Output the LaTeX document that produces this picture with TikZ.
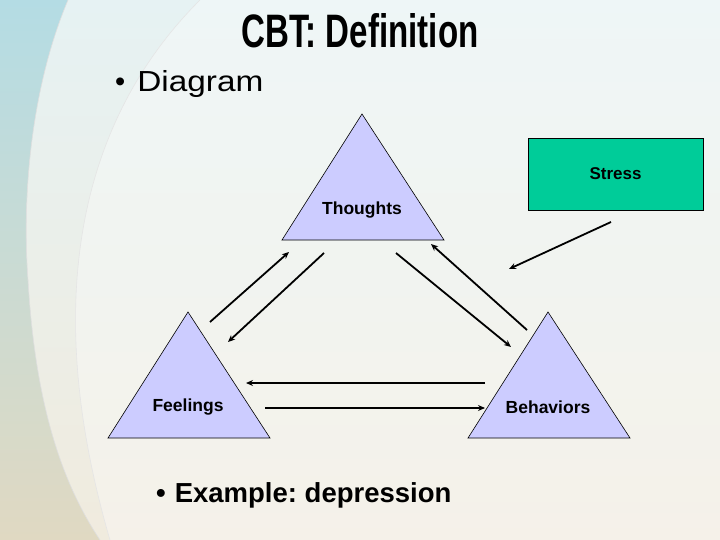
\documentclass[tikz,border=0pt]{standalone}
\usepackage{fontspec}
\setmainfont{Liberation Sans}
\frenchspacing
\usetikzlibrary{arrows.meta}
\definecolor{tri}{HTML}{CCCCFF}
\definecolor{stressgreen}{HTML}{00CC99}
\definecolor{bgtop}{HTML}{E6F2F3}
\definecolor{bgbot}{HTML}{F0EBDE}
\definecolor{leftblue}{HTML}{B4DCE4}
\definecolor{leftbeige}{HTML}{E0D9C2}
\tikzset{
  tribox/.style={fill=tri, draw=black, line width=0.6pt, line join=miter},
  trilabel/.style={font=\bfseries\fontsize{17.5}{20}\selectfont, inner sep=0pt},
  conn/.style={line width=1.8pt, -{Stealth[length=7pt,width=6pt]}},
  stressbox/.style={fill=stressgreen, draw=black, line width=0.8pt, minimum width=175pt, minimum height=72pt, inner sep=0pt, font=\bfseries\fontsize{17}{20}\selectfont},
}
\begin{document}
\begin{tikzpicture}[x=1pt,y=-1pt]
\useasboundingbox (0,0) rectangle (720,540);
% background
\shade[top color=bgtop, bottom color=bgbot] (0,0) rectangle (720,540);
\shade[top color=leftblue, bottom color=leftbeige] (0,0) -- (68,0) .. controls (30,90) and (22,200) .. (28,280) .. controls (35,400) and (60,480) .. (100,540) -- (0,540) -- cycle;
\fill[white, opacity=0.35] (200,0) .. controls (80,120) and (40,300) .. (110,540) -- (720,540) -- (720,0) -- cycle;
\draw[white!75!gray, line width=0.6pt] (68,0) .. controls (30,90) and (22,200) .. (28,280) .. controls (35,400) and (60,480) .. (100,540);
\draw[white!80!gray, line width=0.6pt] (200,0) .. controls (80,120) and (40,300) .. (110,540);
% title and bullets
\node (title) at (360,31) {\resizebox{237pt}{34pt}{\bfseries CBT: Definition}};
\node[anchor=west, inner sep=0pt] (diagram) at (115,84) {\fontsize{29}{34}\selectfont\textbullet\hspace{12pt}\scalebox{1.15}[1]{Diagram}};
\node[anchor=west, inner sep=0pt] (example) at (156,495) {\bfseries\fontsize{27.5}{33}\selectfont\textbullet\hspace{9pt}Example: depression};
% triangles
\draw[tribox] (362,114) -- (444,240) -- (282,240) -- cycle;
\draw[tribox] (188,312) -- (270,438) -- (108,438) -- cycle;
\draw[tribox] (548,312) -- (630,438) -- (468,438) -- cycle;
\node[trilabel] (thoughts) at (362,210) {Thoughts};
\node[trilabel] (feelings) at (188,407) {Feelings};
\node[trilabel] (behaviors) at (548,407) {Behaviors};
\node[stressbox] (stress) at (615.5,174) {Stress};
% arrow endpoints
\coordinate (a1s) at (210,322); \coordinate (a1e) at (289,252);
\coordinate (a2s) at (324,253); \coordinate (a2e) at (228,342);
\coordinate (a3s) at (396,253); \coordinate (a3e) at (511,347);
\coordinate (a4s) at (527,330); \coordinate (a4e) at (431,244);
\coordinate (a5s) at (611,222); \coordinate (a5e) at (509,269);
\coordinate (a6s) at (485,383); \coordinate (a6e) at (246,383);
\coordinate (a7s) at (265,408); \coordinate (a7e) at (485,408);
\draw[conn] (a1s) -- (a1e);
\draw[conn] (a2s) -- (a2e);
\draw[conn] (a3s) -- (a3e);
\draw[conn] (a4s) -- (a4e);
\draw[conn] (a5s) -- (a5e);
\draw[conn] (a6s) -- (a6e);
\draw[conn] (a7s) -- (a7e);
\end{tikzpicture}
\end{document}
